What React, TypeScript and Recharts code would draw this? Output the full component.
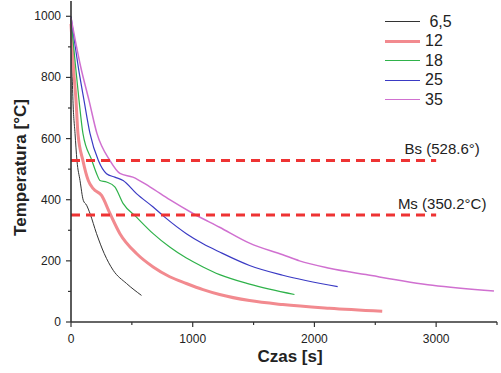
import React from "react";
import { LineChart, Line, XAxis, YAxis, ReferenceLine, Label } from "recharts";

const times65 = [0, 8, 16, 33, 49, 74, 101, 128, 156, 210, 273, 347, 456, 579];
const temps65 = [995, 834, 725, 617, 528, 463, 398, 382, 355, 289, 224, 169, 126, 87];

const times12 = [0, 20, 41, 57, 98, 142, 183, 251, 320, 402, 538, 675, 811, 948, 1085, 1221, 1467, 1740, 2123, 2557];
const temps12 = [975, 834, 725, 617, 528, 463, 436, 414, 355, 289, 224, 180, 148, 126, 106, 90, 70, 57, 45, 35];

const times18 = [0, 38, 66, 98, 172, 210, 238, 292, 360, 429, 538, 675, 811, 948, 1085, 1221, 1467, 1836];
const temps18 = [990, 834, 725, 617, 528, 486, 463, 458, 442, 387, 343, 289, 245, 209, 180, 155, 124, 90];

const times25 = [0, 60, 107, 156, 225, 292, 360, 428, 538, 675, 770, 948, 1085, 1221, 1467, 1740, 2191];
const temps25 = [1000, 834, 725, 617, 528, 485, 474, 463, 420, 376, 343, 289, 256, 229, 185, 153, 116];

const times35 = [0, 80, 148, 213, 320, 402, 508, 648, 811, 1003, 1221, 1467, 1740, 1877, 2123, 2423, 2970, 3475];
const temps35 = [995, 834, 725, 617, 528, 486, 474, 442, 400, 355, 310, 258, 220, 200, 176, 155, 120, 101];

const xTicks = [0, 500, 1000, 1500, 2000, 2500, 3000, 3500];
const yTicks = [0, 100, 200, 300, 400, 500, 600, 700, 800, 900, 1000];

const bsTemp = 528.6;
const msTemp = 350.2;
const refEnd = 3000;

const toPoints = (ts: number[], vs: number[]) => ts.map((t, i) => ({ t, T: vs[i] }));

const series = [
  { name: "6,5", data: toPoints(times65, temps65), color: "#333333", width: 1 },
  { name: "12", data: toPoints(times12, temps12), color: "#f28a8f", width: 3 },
  { name: "18", data: toPoints(times18, temps18), color: "#2fb24a", width: 1.2 },
  { name: "25", data: toPoints(times25, temps25), color: "#3a3ac4", width: 1.2 },
  { name: "35", data: toPoints(times35, temps35), color: "#d070d0", width: 1.5 },
];

const font = "Arial, 'Liberation Sans', sans-serif";

const XTick = (props: any) => {
  const { x, y, payload } = props;
  const major = payload.value % 1000 === 0;
  return (
    <g>
      <line x1={x} x2={x} y1={y} y2={y + (major ? 5 : 3)} stroke="#333" strokeWidth={1.2} />
      {major && (
        <text x={x} y={y + 21} textAnchor="middle" fontSize={12} fill="#222" fontFamily={font}>
          {payload.value}
        </text>
      )}
    </g>
  );
};

const YTick = (props: any) => {
  const { x, y, payload } = props;
  const major = payload.value % 200 === 0;
  return (
    <g>
      <line x1={x - (major ? 5 : 3)} x2={x} y1={y} y2={y} stroke="#333" strokeWidth={1.2} />
      {major && (
        <text x={x - 10} y={y + 4} textAnchor="end" fontSize={12} fill="#222" fontFamily={font}>
          {payload.value}
        </text>
      )}
    </g>
  );
};

const refLabel = (text: string) => (props: any) => {
  const vb = props.viewBox;
  return (
    <text
      x={vb.x + vb.width + 6}
      y={vb.y - 6}
      textAnchor="middle"
      fontSize={15}
      fill="#222"
      fontFamily={font}
    >
      {text}
    </text>
  );
};

export default function App() {
  return (
    <div style={{ position: "absolute", left: 0, top: 0, width: 501, height: 373, background: "#fff" }}>
      <LineChart width={501} height={373} margin={{ top: 1, right: 4, bottom: 0, left: 0 }}>
        <XAxis
          type="number"
          dataKey="t"
          domain={[0, 3500]}
          ticks={xTicks}
          interval={0}
          height={51}
          tickSize={0}
          tickMargin={0}
          tick={<XTick />}
          axisLine={{ stroke: "#333", strokeWidth: 1.6 }}
          allowDuplicatedCategory={false}
        >
          <Label
            content={(p: any) => (
              <text
                x={p.viewBox.x + p.viewBox.width / 2 + 6}
                y={p.viewBox.y + 40}
                textAnchor="middle"
                fontSize={17}
                fontWeight="bold"
                fill="#222"
                fontFamily={font}
              >
                Czas [s]
              </text>
            )}
          />
        </XAxis>
        <XAxis xAxisId="top" orientation="top" type="number" domain={[0, 3500]} height={0} tick={false} tickLine={false} axisLine={{ stroke: "#555", strokeWidth: 1 }} />
        <YAxis
          type="number"
          domain={[0, 1050]}
          ticks={yTicks}
          interval={0}
          width={71}
          tickSize={0}
          tickMargin={0}
          tick={<YTick />}
          axisLine={{ stroke: "#333", strokeWidth: 1.6 }}
        >
          <Label
            content={(p: any) => {
              const cy = p.viewBox.y + p.viewBox.height / 2 + 6;
              return (
                <text
                  x={26}
                  y={cy}
                  transform={`rotate(-90, 26, ${cy})`}
                  textAnchor="middle"
                  fontSize={17}
                  fontWeight="bold"
                  fill="#222"
                  fontFamily={font}
                >
                  Temperatura [°C]
                </text>
              );
            }}
          />
        </YAxis>
        <YAxis yAxisId="right" orientation="right" type="number" domain={[0, 1050]} width={0} tick={false} tickLine={false} axisLine={{ stroke: "#555", strokeWidth: 1 }} />
        {series.map((s) => (
          <Line
            key={s.name}
            data={s.data}
            dataKey="T"
            type="monotone"
            stroke={s.color}
            strokeWidth={s.width}
            dot={false}
            activeDot={false}
            isAnimationActive={false}
          />
        ))}
        <ReferenceLine
          segment={[{ x: 0, y: bsTemp }, { x: refEnd, y: bsTemp }]}
          stroke="#ee3333"
          strokeWidth={3}
          strokeDasharray="9 6"
          label={refLabel("Bs (528.6°)")}
        />
        <ReferenceLine
          segment={[{ x: 0, y: msTemp }, { x: refEnd, y: msTemp }]}
          stroke="#ee3333"
          strokeWidth={3}
          strokeDasharray="9 6"
          label={refLabel("Ms (350.2°C)")}
        />
      </LineChart>
      <div style={{ position: "absolute", left: 385, top: 12, fontFamily: font, fontSize: 16, color: "#222" }}>
        {series.map((s) => (
          <div key={s.name} style={{ display: "flex", alignItems: "center", height: 19.5 }}>
            <div style={{ width: 35, height: 0, borderTop: `${Math.max(1, s.width)}px solid ${s.color}`, marginRight: 5 }} />
            <span>{s.name === "6,5" ? "\u00a06,5" : s.name}</span>
          </div>
        ))}
      </div>
    </div>
  );
}
